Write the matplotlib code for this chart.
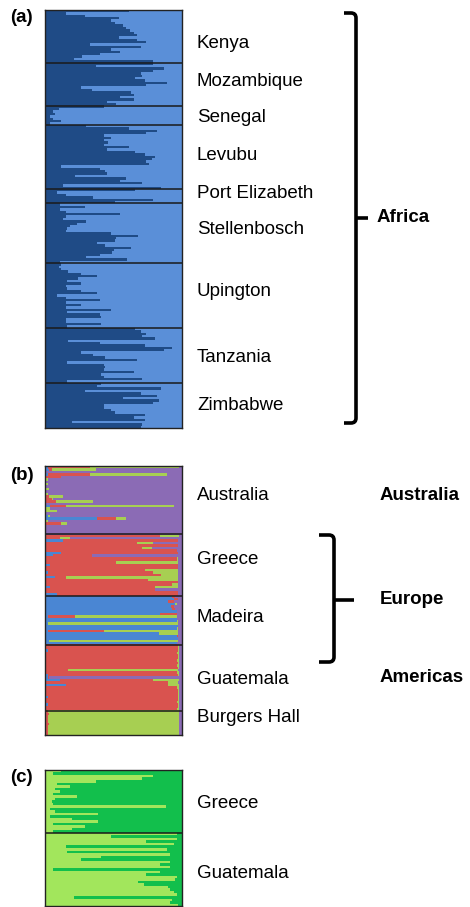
import matplotlib.pyplot as plt
from matplotlib.path import Path
from matplotlib.patches import PathPatch
import numpy as np

plt.rcParams['font.family'] = ['Liberation Sans', 'DejaVu Sans']

W, H = 470, 907

# ---- panel (a): dark-blue membership per individual (rest is light blue)
a_groups = ["Kenya", "Mozambique", "Senegal", "Levubu", "Port Elizabeth",
            "Stellenbosch", "Upington", "Tanzania", "Zimbabwe"]
a_kenya = [0.61, 0.15, 0.29, 0.54, 0.48, 0.51, 0.57, 0.59, 0.62, 0.65, 0.67,
           0.54, 0.67, 0.74, 0.33, 0.70, 0.48, 0.55, 0.40, 0.27, 0.21, 0.79]
a_mozambique = [0.79, 0.37, 0.87, 0.79, 0.70, 0.71, 0.66, 0.73, 0.89, 0.74,
                0.26, 0.34, 0.63, 0.65, 0.55, 0.65, 0.45, 0.52]
a_senegal = [0.43, 0.10, 0.06, 0.07, 0.04, 0.06, 0.12, 0.04]
a_levubu = [0.30, 0.61, 0.82, 0.74, 0.43, 0.48, 0.43, 0.46, 0.43, 0.61, 0.45,
            0.66, 0.73, 0.80, 0.78, 0.74, 0.76, 0.12, 0.40, 0.44, 0.45, 0.22,
            0.59, 0.55, 0.71, 0.13, 0.85]
a_port_elizabeth = [0.66, 0.09, 0.15, 0.35, 0.79, 0.51]
a_stellenbosch = [0.11, 0.29, 0.11, 0.15, 0.55, 0.15, 0.13, 0.30, 0.23, 0.18,
                  0.16, 0.15, 0.48, 0.68, 0.52, 0.51, 0.38, 0.44, 0.63, 0.50,
                  0.49, 0.40, 0.30, 0.60, 0.11]
a_upington = [0.12, 0.10, 0.12, 0.17, 0.26, 0.38, 0.24, 0.16, 0.26, 0.15, 0.16,
              0.26, 0.38, 0.09, 0.15, 0.40, 0.15, 0.26, 0.15, 0.48, 0.16, 0.40,
              0.41, 0.15, 0.15, 0.41, 0.16]
a_tanzania = [0.66, 0.70, 0.74, 0.71, 0.80, 0.17, 0.40, 0.73, 0.93, 0.87, 0.26,
              0.35, 0.44, 0.67, 0.16, 0.43, 0.44, 0.43, 0.65, 0.41, 0.43, 0.71,
              0.16]
a_zimbabwe = [0.41, 0.38, 0.85, 0.29, 0.70, 0.82, 0.57, 0.83, 0.79, 0.43, 0.43,
              0.48, 0.51, 0.73, 0.65, 0.73, 0.20, 0.71, 0.70]
a_data = [a_kenya, a_mozambique, a_senegal, a_levubu, a_port_elizabeth,
          a_stellenbosch, a_upington, a_tanzania, a_zimbabwe]

# ---- panel (b): (blue, red, green) membership, purple is the remainder
b_groups = ["Australia", "Greece", "Madeira", "Guatemala", "Burgers Hall"]
b_australia = [(0.02, 0.31, 0.646), (0.03, 0.02, 0.32), (0, 0, 0), (0.02, 0.31, 0.56),
               (0, 0.12, 0), (0, 0, 0.02), (0, 0, 0), (0, 0, 0.02), (0, 0, 0),
               (0, 0, 0.03), (0, 0, 0), (0.01, 0, 0.01), (0.01, 0.02, 0.10),
               (0, 0.05, 0.01), (0, 0.08, 0.27), (0, 0, 0), (0.04, 0.11, 0.79),
               (0, 0, 0.04), (0, 0, 0.085), (0, 0, 0), (0.02, 0, 0.02),
               (0.38, 0.14, 0.07), (0, 0, 0.02), (0, 0.12, 0.04), (0, 0, 0.01),
               (0, 0.01, 0), (0, 0, 0), (0, 0, 0)]
b_greece = [(0, 0.84, 0.136), (0, 0.11, 0.07), (0.13, 0.84, 0), (0, 0.67, 0.12),
            (0, 0.97, 0), (0, 0.71, 0.07), (0, 0.96, 0), (0.12, 0.85, 0),
            (0.06, 0.28, 0), (0, 0.96, 0.01), (0, 0.96, 0.01), (0, 0.52, 0.45),
            (0.04, 0.93, 0), (0, 0.97, 0), (0, 0.73, 0.24), (0.02, 0.77, 0.18),
            (0, 0.85, 0.12), (0.07, 0.08, 0.82), (0, 0.75, 0.22), (0, 0.97, 0),
            (0, 0.93, 0.04), (0.04, 0.76, 0.17), (0, 0.80, 0), (0, 0.97, 0),
            (0.09, 0.88, 0)]
b_madeira = [(0.93, 0.02, 0), (0.94, 0.03, 0), (0.90, 0.04, 0), (0.95, 0, 0.01),
             (0.92, 0.02, 0), (0.93, 0.02, 0), (0.96, 0, 0), (0.84, 0.12, 0),
             (0.02, 0.20, 0.74), (0.96, 0, 0), (0.96, 0, 0.01), (0.02, 0, 0.95),
             (0.97, 0, 0), (0.96, 0, 0.01), (0.02, 0.41, 0.54), (0.83, 0, 0.14),
             (0.96, 0.01, 0), (0.97, 0, 0), (0.03, 0, 0.94), (0.96, 0, 0)]
b_guatemala = [(0, 0.97, 0.01), (0, 0.97, 0.01), (0.02, 0.95, 0.01), (0, 0.96, 0.02),
               (0.01, 0.96, 0.01), (0, 0.97, 0.01), (0, 0.96, 0.02), (0, 0.97, 0.01),
               (0, 0.96, 0.02), (0, 0.97, 0.01), (0, 0.17, 0.80), (0, 0.96, 0.02),
               (0.02, 0.95, 0.01), (0.02, 0.01, 0), (0.11, 0.68, 0.19),
               (0, 0.90, 0.07), (0.15, 0.75, 0.08), (0, 0.96, 0.02), (0, 0.97, 0.01),
               (0.01, 0.96, 0.01), (0, 0.97, 0.01), (0.02, 0.95, 0.01), (0, 0.97, 0.01),
               (0, 0.96, 0.02), (0.02, 0.95, 0.01), (0, 0.97, 0.01), (0, 0.96, 0.02)]
b_burgers_hall = [(0, 0.02, 0.96), (0, 0.03, 0.95), (0, 0.02, 0.96), (0, 0.02, 0.96),
                  (0, 0.02, 0.96), (0, 0.03, 0.95), (0, 0.02, 0.96), (0, 0.02, 0.96),
                  (0, 0.02, 0.96), (0, 0.02, 0.96)]
b_data = [b_australia, b_greece, b_madeira, b_guatemala, b_burgers_hall]

# ---- panel (c): light-green membership per individual (rest is dark green)
c_groups = ["Greece", "Guatemala"]
c_greece = [0.12, 0.06, 0.79, 0.71, 0.37, 0.09, 0.18, 0.07, 0.11, 0.06, 0.23,
            0.07, 0.05, 0.06, 0.88, 0.04, 0.07, 0.39, 0.04, 0.20, 0.39, 0.06,
            0.29, 0.20, 0.06]
c_guatemala = [0.96, 0.48, 0.96, 0.74, 0.94, 0.15, 0.89, 0.16, 0.91, 0.41, 0.26,
               0.91, 0.84, 0.91, 0.06, 0.84, 0.74, 0.96, 0.95, 0.68, 0.72, 0.90,
               0.91, 0.94, 0.96, 0.21, 0.93, 0.91, 0.97]
c_data = [c_greece, c_guatemala]

fig = plt.figure(figsize=(W / 100, H / 100), dpi=100)


def px_axes(x0, y0, x1, y1):
    ax = fig.add_axes([x0 / W, 1 - y1 / H, (x1 - x0) / W, (y1 - y0) / H])
    ax.set_xticks([])
    ax.set_yticks([])
    for s in ax.spines.values():
        s.set_linewidth(1.0)
        s.set_color("#222222")
    return ax


def structure_panel(ax, groups, colors):
    # groups: list of groups, each a list of rows of component proportions
    rows = [r for g in groups for r in g]
    n = len(rows)
    y = np.arange(n) + 0.5
    left = np.zeros(n)
    for k, col in enumerate(colors):
        w = np.array([r[k] for r in rows])
        ax.barh(y, w, left=left, height=1.06, color=col, linewidth=0)
        left += w
    ax.set_xlim(0, 1)
    ax.set_ylim(n, 0)
    edge = 0
    for g in groups[:-1]:
        edge += len(g)
        ax.axhline(edge, color="#1a1a1a", lw=1.1)


def two_comp(groups):
    return [[(q, 1 - q) for q in g] for g in groups]


def four_comp(groups):
    return [[(b, r, gr, 1 - b - r - gr) for (b, r, gr) in g] for g in groups]


ax_a = px_axes(45, 10, 182, 428)
structure_panel(ax_a, two_comp(a_data), ["#1f4b86", "#5a8fd8"])

ax_b = px_axes(45, 466, 182, 735)
structure_panel(ax_b, four_comp(b_data), ["#4a86d3", "#d9534f", "#a7cf52", "#8b6bb5"])

ax_c = px_axes(45, 770, 182, 906)
structure_panel(ax_c, two_comp(c_data), ["#a2e65c", "#12bf4c"])

# ---- overlay for labels and braces (pixel coordinates)
ov = fig.add_axes([0, 0, 1, 1], facecolor="none")
ov.set_xlim(0, W)
ov.set_ylim(H, 0)
ov.axis("off")

fs = 13.5
for lab, yy in zip(["(a)", "(b)", "(c)"], [18, 475, 778]):
    ov.text(10, yy, lab, fontsize=fs, fontweight="bold", va="center", ha="left")

a_label_y = [43, 82, 118, 155, 193, 230, 292, 358, 405]
for lab, yy in zip(a_groups, a_label_y):
    ov.text(197, yy, lab, fontsize=fs, va="center", ha="left")

b_label_y = [495, 560, 617, 680, 717]
for lab, yy in zip(b_groups, b_label_y):
    ov.text(197, yy, lab, fontsize=fs, va="center", ha="left")

c_label_y = [803, 874]
for lab, yy in zip(c_groups, c_label_y):
    ov.text(197, yy, lab, fontsize=fs, va="center", ha="left")

regions = ["Africa", "Australia", "Europe", "Americas"]
region_pos = [(377, 218), (380, 495), (380, 600), (380, 677)]
for lab, (xx, yy) in zip(regions, region_pos):
    ov.text(xx, yy, lab, fontsize=fs, fontweight="bold", va="center", ha="left")


def brace(x_hook, x_line, x_tip, y0, y1, ym, r=5):
    verts = [(x_hook, y0), (x_line - r, y0), (x_line, y0), (x_line, y0 + r),
             (x_line, y1 - r), (x_line, y1), (x_line - r, y1), (x_hook, y1)]
    codes = [Path.MOVETO, Path.LINETO, Path.CURVE3, Path.CURVE3,
             Path.LINETO, Path.CURVE3, Path.CURVE3, Path.LINETO]
    ov.add_patch(PathPatch(Path(verts, codes), fill=False, lw=2.6, color="black"))
    ov.plot([x_line, x_tip], [ym, ym], color="black", lw=2.6, solid_capstyle="butt")


brace(344, 356, 368, 13, 423, 218)
brace(319, 334, 354, 535, 662, 600)

fig.savefig("out.png", dpi=100)
